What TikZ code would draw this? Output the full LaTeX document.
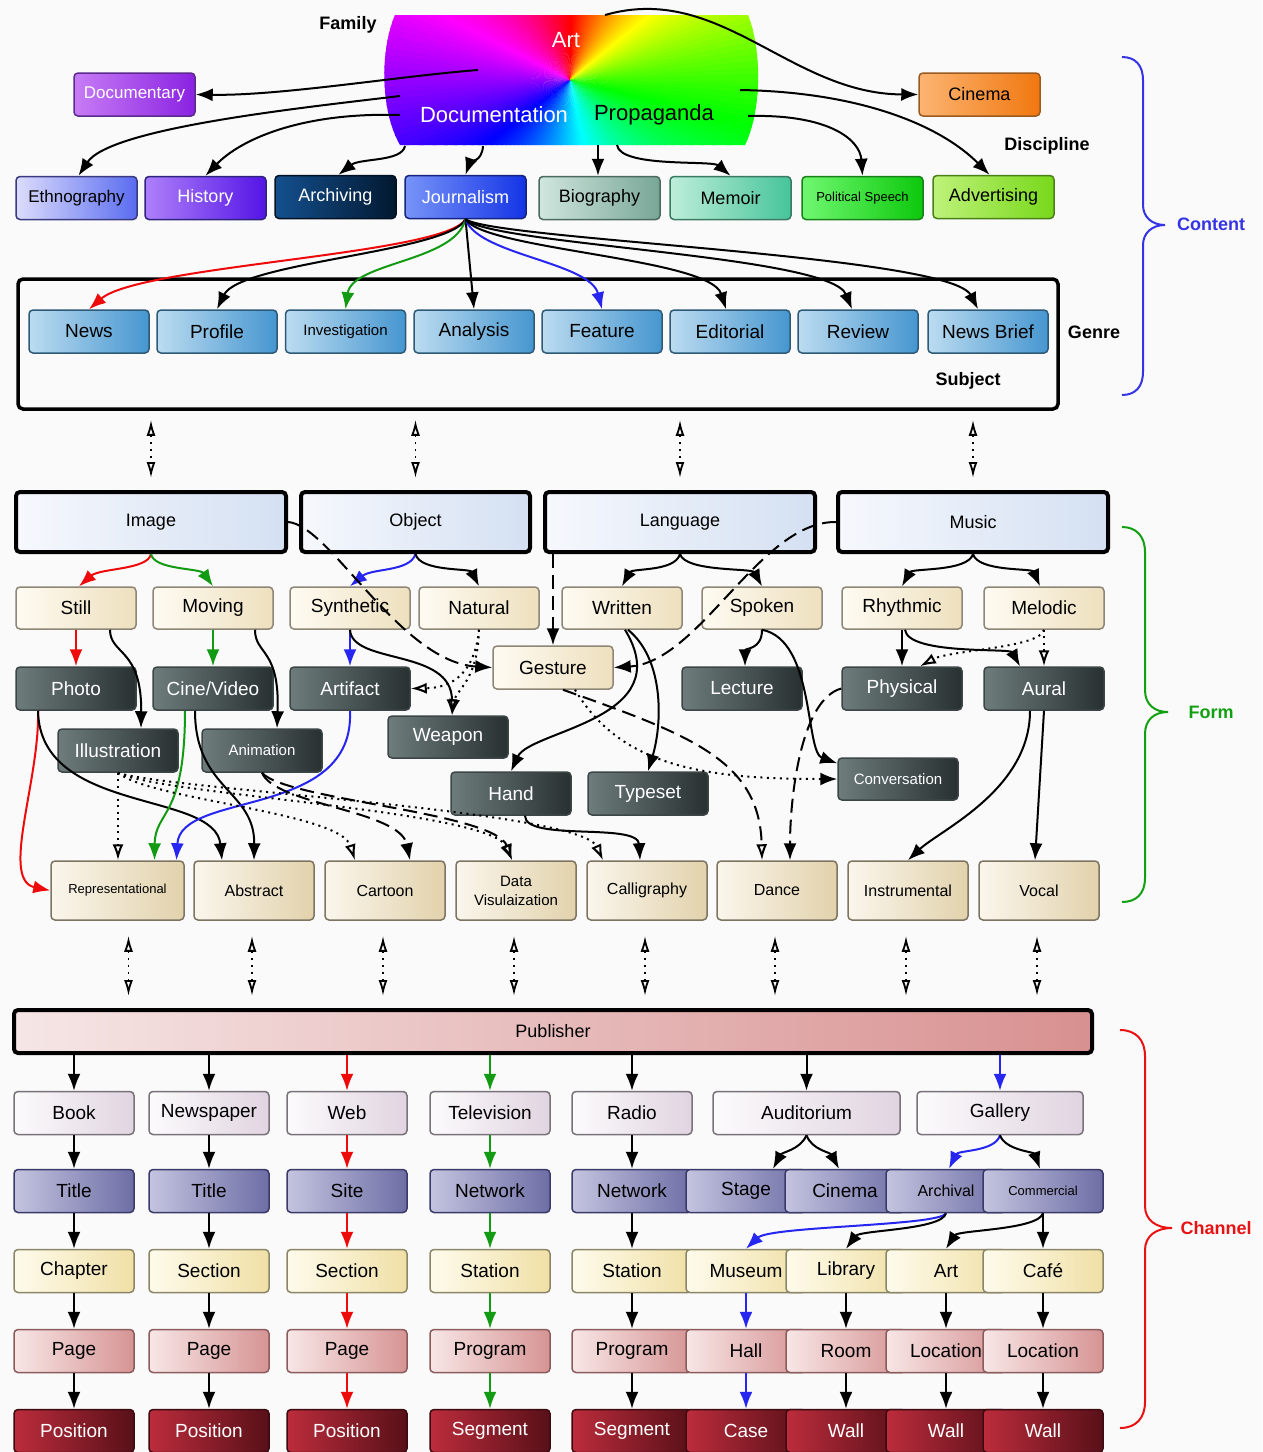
\documentclass[tikz,border=0pt]{standalone}
\usepackage{fontspec}
\setmainfont{Liberation Sans}
\usetikzlibrary{arrows.meta}

\definecolor{bgc}{HTML}{FAFAFA}
\definecolor{ered}{HTML}{EE0A0A}
\definecolor{egreen}{HTML}{139A13}
\definecolor{eblue}{HTML}{2626F0}
\definecolor{cbrace}{HTML}{3434E6}
\definecolor{fbrace}{HTML}{12A012}
\definecolor{rbrace}{HTML}{E81212}
% discipline colours
\definecolor{docL}{HTML}{C77CF5}\definecolor{docR}{HTML}{8A22E2}\definecolor{docB}{HTML}{5B2A8C}
\definecolor{cinL}{HTML}{FCB472}\definecolor{cinR}{HTML}{F07810}\definecolor{cinB}{HTML}{9A5A20}
\definecolor{ethL}{HTML}{DCDCFC}\definecolor{ethR}{HTML}{5A6CF0}\definecolor{ethB}{HTML}{3A3A80}
\definecolor{hisL}{HTML}{AE80FA}\definecolor{hisR}{HTML}{5414E6}\definecolor{hisB}{HTML}{2E2480}
\definecolor{arcL}{HTML}{14508E}\definecolor{arcR}{HTML}{021830}\definecolor{arcB}{HTML}{021024}
\definecolor{jouL}{HTML}{7894F8}\definecolor{jouR}{HTML}{1434E6}\definecolor{jouB}{HTML}{142480}
\definecolor{bioL}{HTML}{D0E6DE}\definecolor{bioR}{HTML}{78A696}\definecolor{bioB}{HTML}{4A6A5E}
\definecolor{memL}{HTML}{BEEEDA}\definecolor{memR}{HTML}{46C49A}\definecolor{memB}{HTML}{3A7A62}
\definecolor{polL}{HTML}{70F870}\definecolor{polR}{HTML}{0CC80C}\definecolor{polB}{HTML}{188018}
\definecolor{advL}{HTML}{BEF27A}\definecolor{advR}{HTML}{78D81A}\definecolor{advB}{HTML}{4A8018}
% genre, form and channel colours
\definecolor{genL}{HTML}{BCDCF0}\definecolor{genR}{HTML}{4696D0}\definecolor{genB}{HTML}{2E5A78}
\definecolor{ftL}{HTML}{F6F8FD}\definecolor{ftR}{HTML}{D4E0F2}
\definecolor{crL}{HTML}{FEFBF2}\definecolor{crR}{HTML}{EEE0BE}\definecolor{crB}{HTML}{8E8676}
\definecolor{dkL}{HTML}{6E7C7C}\definecolor{dkR}{HTML}{283030}\definecolor{dkB}{HTML}{3C4646}
\definecolor{fbL}{HTML}{FAF6EC}\definecolor{fbR}{HTML}{E2D2AC}\definecolor{fbB}{HTML}{7E7462}
\definecolor{caL}{HTML}{FCFBFC}\definecolor{caR}{HTML}{E0D4E0}\definecolor{caB}{HTML}{7A727A}
\definecolor{cbL}{HTML}{C4C4E0}\definecolor{cbR}{HTML}{6E6EA6}\definecolor{cbB}{HTML}{3A3A6A}
\definecolor{ccL}{HTML}{FEFBEC}\definecolor{ccR}{HTML}{F0E0A6}\definecolor{ccB}{HTML}{8C8668}
\definecolor{cdL}{HTML}{F8E6E6}\definecolor{cdR}{HTML}{D69494}\definecolor{cdB}{HTML}{8C5C5C}
\definecolor{ceL}{HTML}{BC2C3C}\definecolor{ceR}{HTML}{581018}\definecolor{ceB}{HTML}{3C0A10}
\definecolor{pubL}{HTML}{F6E6E6}\definecolor{pubR}{HTML}{D89090}

\newcommand\fsz[1]{\fontsize{#1}{#1}\selectfont}

\tikzset{
  bx/.style={rounded corners=4pt, line width=1.5pt, minimum width=120pt,
             minimum height=43pt, inner sep=0pt, align=center, font=\fsz{19}},
  boxcol/.style n args={3}{draw=#1, left color=#2, right color=#3},
  genbox/.style={bx, boxcol={genB}{genL}{genR}},
  ftop/.style={bx, draw=black, line width=4pt, minimum width=270pt, minimum height=60pt,
               left color=ftL, right color=ftR, font=\fsz{18}},
  crbox/.style={bx, minimum height=42pt, boxcol={crB}{crL}{crR}},
  dkbox/.style={bx, boxcol={dkB}{dkL}{dkR}, text=white},
  fbbox/.style={bx, minimum height=59pt, boxcol={fbB}{fbL}{fbR}, font=\fsz{16}},
  chA/.style={bx, boxcol={caB}{caL}{caR}},
  chB/.style={bx, boxcol={cbB}{cbL}{cbR}},
  chC/.style={bx, boxcol={ccB}{ccL}{ccR}},
  chD/.style={bx, boxcol={cdB}{cdL}{cdR}},
  chE/.style={bx, boxcol={ceB}{ceL}{ceR}, text=white},
  lbl/.style={font=\bfseries\fsz{18}},
  arr/.style={-{Latex[length=17pt,width=13pt]}, line width=2pt},
  oarr/.style={-{Latex[open,length=16pt,width=11pt]}, line width=2pt},
  dotline/.style={dash pattern=on 2pt off 4.5pt},
  dashline/.style={dash pattern=on 14pt off 7pt},
  dbl/.style={{Latex[open,length=16pt,width=9pt]}-{Latex[open,length=16pt,width=9pt]},
              line width=1.8pt, dash pattern=on 2pt off 5pt},
  brc/.style={line width=2pt},
}

\begin{document}
\begin{tikzpicture}[x=1pt,y=-1pt]
\useasboundingbox (0,0) rectangle (1262,1452);
\fill[bgc] (0,0) rectangle (1262,1452);

% ---------- colour wheel of the families ----------
\begin{scope}
  \clip (395,15) -- (748,15) .. controls (762,50) and (762,110) .. (745,145)
        -- (400,145) .. controls (380,110) and (380,50) .. (395,15) -- cycle;
  \foreach \a in {0,2,...,358}{
    \pgfmathsetmacro\t{mod(\a+90,360)/360}
    \pgfmathsetmacro\hu{\t<0.25 ? 1.2*\t : 0.30+(\t-0.25)*0.9333}
    \pgfmathsetmacro\b{\a+2.6}
    \definecolor{wedge}{hsb}{\hu,1,1}
    \fill[wedge] (570,80) -- +(\a:520) -- +(\b:520) -- cycle;
  }
\end{scope}
\node[font=\fsz{22}, text=white] (art) at (566,40) {Art};
\node[font=\fsz{22}, text=white] (documentation) at (494,115) {Documentation};
\node[font=\fsz{22}] (propaganda) at (654,115) {Propaganda};

\coordinate (bDoc) at (478,70);
\coordinate (bEth) at (400,96);
\coordinate (bHis) at (400,115);
\coordinate (bArc) at (405,146);
\coordinate (bJou) at (483,146);
\coordinate (bBio) at (598,145);
\coordinate (bMem) at (617,145);
\coordinate (bPol) at (748,116);
\coordinate (bAdv) at (740,90);
\coordinate (bCin) at (605,15);

% ---------- labels ----------
\node[lbl] (lfamily) at (348,25) {Family};
\node[lbl] (ldisc) at (1047,146) {Discipline};
\node[lbl] (lgenre) at (1094,332) {Genre};
\node[lbl] (lsubj) at (968,381) {Subject};
\node[lbl, text=cbrace] (lcontent) at (1211,224) {Content};
\node[lbl, text=fbrace] (lform) at (1211,712) {Form};
\node[lbl, text=rbrace] (lchannel) at (1216,1228) {Channel};

% ---------- disciplines ----------
\node[bx, minimum width=121pt, boxcol={docB}{docL}{docR}, text=white, font=\fsz{17}] (documentary) at (134.5,94.5) {Documentary};
\node[bx, minimum width=121pt, boxcol={cinB}{cinL}{cinR}, font=\fsz{18}] (cinema) at (979.5,94.5) {Cinema};
\node[bx, minimum width=121pt, boxcol={ethB}{ethL}{ethR}, font=\fsz{17}] (ethno) at (76.5,198) {Ethnography};
\node[bx, minimum width=121pt, boxcol={hisB}{hisL}{hisR}, text=white, font=\fsz{18}] (history) at (205.5,198) {History};
\node[bx, minimum width=121pt, boxcol={arcB}{arcL}{arcR}, text=white, font=\fsz{18}] (archiving) at (335.5,197) {Archiving};
\node[bx, minimum width=121pt, boxcol={jouB}{jouL}{jouR}, text=white, font=\fsz{18}] (journalism) at (465.5,197) {Journalism};
\node[bx, minimum width=121pt, boxcol={bioB}{bioL}{bioR}, font=\fsz{18}] (biography) at (599.5,198) {Biography};
\node[bx, minimum width=121pt, boxcol={memB}{memL}{memR}, font=\fsz{18}] (memoir) at (730.5,198) {Memoir};
\node[bx, minimum width=121pt, boxcol={polB}{polL}{polR}, font=\fsz{13}] (polspeech) at (862.5,198) {Political Speech};
\node[bx, minimum width=121pt, boxcol={advB}{advL}{advR}, font=\fsz{18}] (advertising) at (993.5,197) {Advertising};

\draw[arr] (bDoc) .. controls (400,76) and (280,96) .. (documentary.east);
\draw[arr] (bEth) .. controls (300,108) and (110,128) .. ([xshift=2pt]ethno.north);
\draw[arr] (bHis) .. controls (300,112) and (240,140) .. (history.north);
\draw[arr] (bArc) .. controls (402,162) and (360,158) .. ([xshift=3pt]archiving.north);
\draw[arr] (bJou) .. controls (482,162) and (470,162) .. (journalism.north);
\draw[arr] (bBio) -- (bBio |- biography.north);
\draw[arr] (bMem) .. controls (620,168) and (712,160) .. (memoir.north);
\draw[arr] (bPol) .. controls (830,114) and (860,140) .. (polspeech.north);
\draw[arr] (bAdv) .. controls (860,92) and (940,125) .. ([xshift=-4pt]advertising.north);
\draw[arr] (bCin) .. controls (720,-18) and (790,94) .. (cinema.west);

% ---------- subject / genre ----------
\node[draw, line width=3.5pt, rounded corners=5pt, minimum width=1040pt, minimum height=130pt, inner sep=0pt] (subject) at (538,344) {};
\node[genbox] (news) at (89,331.5) {News};
\node[genbox] (profile) at (217,331.5) {Profile};
\node[genbox, font=\fsz{15}] (investigation) at (345.5,331.5) {Investigation};
\node[genbox] (analysis) at (474,331.5) {Analysis};
\node[genbox] (feature) at (602,331.5) {Feature};
\node[genbox] (editorial) at (730,331.5) {Editorial};
\node[genbox] (review) at (858,331.5) {Review};
\node[genbox] (newsbrief) at (988,331.5) {News Brief};

\draw[arr, ered] (journalism.south) .. controls (445,255) and (140,265) .. (news.north);
\draw[arr] (journalism.south) .. controls (450,252) and (240,262) .. (profile.north);
\draw[arr, egreen] (journalism.south) .. controls (455,262) and (352,262) .. (investigation.north);
\draw[arr] (journalism.south) -- (analysis.north);
\draw[arr, eblue] (journalism.south) .. controls (478,255) and (590,262) .. (feature.north);
\draw[arr] (journalism.south) .. controls (485,250) and (710,258) .. ([xshift=-4pt]editorial.north);
\draw[arr] (journalism.south) .. controls (490,245) and (830,255) .. ([xshift=-6pt]review.north);
\draw[arr] (journalism.south) .. controls (495,240) and (950,255) .. ([xshift=-10pt]newsbrief.north);

% ---------- form ----------
\node[ftop] (img) at (151,522) {Image};
\node[ftop, minimum width=229pt] (obj) at (415.5,522) {Object};
\node[ftop] (lang) at (680,522) {Language};
\node[ftop] (music) at (973,522) {Music};

\foreach \n in {img,obj,lang,music}
  \draw[dbl, shorten <=9pt, shorten >=12pt] (\n.north |- subject.south) -- (\n.north);

\node[crbox] (still) at (76,608) {Still};
\node[crbox] (moving) at (213,608) {Moving};
\node[crbox] (synth) at (350,608) {Synthetic};
\node[crbox] (natural) at (479,608) {Natural};
\node[crbox] (written) at (622,608) {Written};
\node[crbox] (spoken) at (762,608) {Spoken};
\node[crbox] (rhythmic) at (902,608) {Rhythmic};
\node[crbox] (melodic) at (1044,608) {Melodic};
\node[crbox, minimum height=43pt] (gesture) at (553,667.5) {Gesture};

\node[dkbox] (photo) at (76,688.5) {Photo};
\node[dkbox] (cine) at (213,688.5) {Cine/Video};
\node[dkbox] (artifact) at (350,688.5) {Artifact};
\node[dkbox] (lecture) at (742,688.5) {Lecture};
\node[dkbox] (physical) at (902,688.5) {Physical};
\node[dkbox] (aural) at (1044,688.5) {Aural};
\node[dkbox] (illus) at (118,750.5) {Illustration};
\node[dkbox, font=\fsz{15}] (anim) at (262,750.5) {Animation};
\node[dkbox, minimum height=42pt] (weapon) at (448,737) {Weapon};
\node[dkbox] (hand) at (511,793.5) {Hand};
\node[dkbox] (typeset) at (648,793.5) {Typeset};
\node[dkbox, minimum height=42pt, font=\fsz{15}] (conv) at (898,779) {Conversation};

\node[fbbox, minimum width=133pt, font=\fsz{13}] (rep) at (117.5,890.5) {Representational};
\node[fbbox] (abstract) at (254,890.5) {Abstract};
\node[fbbox] (cartoon) at (385,890.5) {Cartoon};
\node[fbbox, font=\fontsize{15}{19}\selectfont] (dataviz) at (516,890.5) {Data\\Visulaization};
\node[fbbox] (calli) at (647,890.5) {Calligraphy};
\node[fbbox] (dance) at (777,890.5) {Dance};
\node[fbbox] (instr) at (908,890.5) {Instrumental};
\node[fbbox] (vocal) at (1039,890.5) {Vocal};

% first level of form
\draw[arr, ered] (img.south) .. controls (148,570) and (100,568) .. ([xshift=3pt]still.north);
\draw[arr, egreen] (img.south) .. controls (154,570) and (200,568) .. (moving.north);
\draw[arr, eblue] (obj.south) .. controls (410,572) and (372,568) .. (synth.north);
\draw[arr] (obj.south) .. controls (420,572) and (470,568) .. (natural.north);
\draw[arr] (lang.south) .. controls (675,572) and (632,568) .. (written.north);
\draw[arr] (lang.south) .. controls (685,572) and (752,568) .. (spoken.north);
\draw[arr] (music.south) .. controls (968,572) and (912,568) .. (rhythmic.north);
\draw[arr] (music.south) .. controls (978,572) and (1032,568) .. ([xshift=-4pt]melodic.north);

% second level of form
\draw[arr, ered] (still.south) -- (photo.north);
\draw[arr] ([xshift=34pt]still.south) .. controls (110,655) and (142,648) .. ([xshift=23pt]illus.north);
\draw[arr, egreen] (moving.south) -- (cine.north);
\draw[arr] ([xshift=42pt]moving.south) .. controls (255,655) and (280,648) .. ([xshift=15pt]anim.north);
\draw[arr, eblue] (synth.south) -- (artifact.north);
\draw[oarr] (synth.south) .. controls (352,665) and (452,648) .. ([xshift=4pt]weapon.north);
\draw[oarr, dotline] (natural.south) .. controls (478,680) and (456,690) .. ([xshift=4pt]weapon.north);
\draw[oarr, dotline] (natural.south) .. controls (474,680) and (445,688) .. (artifact.east);
\draw[arr, dashline] (img.east) .. controls (330,525) and (400,662) .. (gesture.west);
\draw[arr, dashline] (gesture.north |- lang.south) -- (gesture.north);
\draw[arr, dashline] (music.west) .. controls (760,521) and (700,662) .. (gesture.east);
\draw[arr] ([xshift=3pt]written.south) .. controls (680,720) and (530,730) .. (hand.north);
\draw[arr] ([xshift=6pt]written.south) .. controls (665,660) and (662,725) .. (typeset.north);
\draw[arr] (spoken.south) .. controls (762,650) and (745,648) .. ([xshift=3pt]lecture.north);
\draw[arr] (spoken.south) .. controls (815,640) and (805,752) .. ([yshift=-6pt]conv.north west);
\draw[oarr, dashline] ([xshift=10pt]gesture.south) .. controls (690,735) and (760,760) .. ([xshift=-15pt]dance.north);
\draw[arr, dotline] ([xshift=22pt]gesture.south) .. controls (620,765) and (700,779) .. (conv.west);
\draw[arr, dashline] (physical.west) .. controls (800,700) and (790,800) .. ([xshift=13pt]dance.north);
\draw[arr] (rhythmic.south) -- (physical.north);
\draw[arr] ([xshift=3pt]rhythmic.south) .. controls (908,655) and (1010,648) .. ([xshift=-24pt]aural.north);
\draw[oarr, dotline] (melodic.south) -- (aural.north);
\draw[oarr, dotline] (melodic.south) .. controls (1040,648) and (950,650) .. ([xshift=18pt]physical.north);

% third level of form
\draw[arr] ([xshift=-14pt]aural.south) .. controls (1030,790) and (940,830) .. (instr.north);
\draw[arr] (aural.south) -- ([xshift=-4pt]vocal.north);
\draw[arr, ered] ([xshift=-38pt]photo.south) .. controls (40,780) and (0,880) .. (rep.west);
\draw[arr] ([xshift=-38pt]photo.south) .. controls (40,815) and (215,790) .. ([xshift=-32pt]abstract.north);
\draw[arr, egreen] ([xshift=-28pt]cine.south) .. controls (185,820) and (155,810) .. ([xshift=37pt]rep.north);
\draw[arr] ([xshift=-18pt]cine.south) .. controls (195,790) and (255,790) .. (abstract.north);
\draw[arr, eblue] (artifact.south) .. controls (355,820) and (180,790) .. ([xshift=59pt]rep.north);
\draw[oarr, dotline] (illus.south) -- (illus.south |- rep.north);
\draw[oarr, dotline] (illus.south) .. controls (150,800) and (340,812) .. ([xshift=-30pt]cartoon.north);
\draw[oarr, dotline] (illus.south) .. controls (160,795) and (490,810) .. ([xshift=-4pt]dataviz.north);
\draw[oarr, dotline] (illus.south) .. controls (170,790) and (580,810) .. ([xshift=-44pt]calli.north);
\draw[arr, dashline] (anim.south) .. controls (275,805) and (400,810) .. ([xshift=25pt]cartoon.north);
\draw[oarr, dashline] (anim.south) .. controls (285,800) and (495,812) .. ([xshift=-4pt]dataviz.north);
\draw[arr] ([xshift=14pt]hand.south) .. controls (525,842) and (638,822) .. ([xshift=-7pt]calli.north);

% ---------- channel ----------
\node[bx, draw=black, line width=4pt, minimum width=1078pt, left color=pubL, right color=pubR, font=\fsz{18}] (publisher) at (553,1031.5) {Publisher};

\draw[dbl, shorten <=15pt, shorten >=12pt] ([xshift=11pt]rep.south) -- ([xshift=11pt]rep.south |- publisher.north);
\foreach \n in {abstract,cartoon,dataviz,calli,dance,instr,vocal}
  \draw[dbl, shorten <=15pt, shorten >=12pt] ([xshift=-2pt]\n.south) -- ([xshift=-2pt]\n.south |- publisher.north);

\node[chA] (book) at (74,1113) {Book};
\node[chA] (newspaper) at (209,1113) {Newspaper};
\node[chA] (web) at (347,1113) {Web};
\node[chA] (television) at (490,1113) {Television};
\node[chA] (radio) at (632,1113) {Radio};
\node[chA, minimum width=187pt] (auditorium) at (806.5,1113) {Auditorium};
\node[chA, minimum width=166pt] (gallery) at (1000,1113) {Gallery};

\node[chB] (title1) at (74,1191) {Title};
\node[chB] (title2) at (209,1191) {Title};
\node[chB] (site) at (347,1191) {Site};
\node[chB] (network1) at (490,1191) {Network};
\node[chB] (network2) at (632,1191) {Network};
\node[chB] (stage) at (746,1191) {Stage};
\node[chB] (cinema2) at (845,1191) {Cinema};
\node[chB, font=\fsz{16}] (archival) at (946,1191) {Archival};
\node[chB, font=\fsz{13}] (commercial) at (1043,1191) {Commercial};

\node[chC] (chapter) at (74,1271) {Chapter};
\node[chC] (section1) at (209,1271) {Section};
\node[chC] (section2) at (347,1271) {Section};
\node[chC] (station1) at (490,1271) {Station};
\node[chC] (station2) at (632,1271) {Station};
\node[chC] (museum) at (746,1271) {Museum};
\node[chC] (library) at (846,1271) {Library};
\node[chC] (art2) at (946,1271) {Art};
\node[chC] (cafe) at (1043,1271) {Café};

\node[chD] (page1) at (74,1351) {Page};
\node[chD] (page2) at (209,1351) {Page};
\node[chD] (page3) at (347,1351) {Page};
\node[chD] (program1) at (490,1351) {Program};
\node[chD] (program2) at (632,1351) {Program};
\node[chD] (hall) at (746,1351) {Hall};
\node[chD] (room) at (846,1351) {Room};
\node[chD] (location1) at (946,1351) {Location};
\node[chD] (location2) at (1043,1351) {Location};

\node[chE] (pos1) at (74,1431) {Position};
\node[chE] (pos2) at (209,1431) {Position};
\node[chE] (pos3) at (347,1431) {Position};
\node[chE] (segment1) at (490,1431) {Segment};
\node[chE] (segment2) at (632,1431) {Segment};
\node[chE] (case) at (746,1431) {Case};
\node[chE] (wall1) at (846,1431) {Wall};
\node[chE] (wall2) at (946,1431) {Wall};
\node[chE] (wall3) at (1043,1431) {Wall};

\foreach \n in {book,newspaper,radio,auditorium}
  \draw[arr] (\n.north |- publisher.south) -- (\n.north);
\draw[arr, ered] (web.north |- publisher.south) -- (web.north);
\draw[arr, egreen] (television.north |- publisher.south) -- (television.north);
\draw[arr, eblue] (gallery.north |- publisher.south) -- (gallery.north);

\foreach \a/\b in {book/title1, title1/chapter, chapter/page1, page1/pos1,
                   newspaper/title2, title2/section1, section1/page2, page2/pos2,
                   radio/network2, network2/station2, station2/program2, program2/segment2,
                   library/room, room/wall1, art2/location1, location1/wall2,
                   cafe/location2, location2/wall3}
  \draw[arr] (\a.south) -- (\b.north);
\foreach \a/\b in {web/site, site/section2, section2/page3, page3/pos3}
  \draw[arr, ered] (\a.south) -- (\b.north);
\foreach \a/\b in {television/network1, network1/station1, station1/program1, program1/segment1}
  \draw[arr, egreen] (\a.south) -- (\b.north);
\foreach \a/\b in {museum/hall, hall/case}
  \draw[arr, eblue] (\a.south) -- (\b.north);

\draw[arr] (auditorium.south) .. controls (800,1150) and (782,1152) .. ([xshift=27pt]stage.north);
\draw[arr] (auditorium.south) .. controls (812,1150) and (830,1152) .. ([xshift=-6pt]cinema2.north);
\draw[arr, eblue] (gallery.south) .. controls (995,1152) and (958,1150) .. ([xshift=3pt]archival.north);
\draw[arr] (gallery.south) .. controls (1005,1150) and (1034,1152) .. ([xshift=-3pt]commercial.north);
\draw[arr, eblue] (archival.south) .. controls (940,1226) and (770,1226) .. (museum.north);
\draw[arr] (archival.south) .. controls (942,1230) and (860,1230) .. (library.north);
\draw[arr] (commercial.south) .. controls (1038,1230) and (958,1230) .. (art2.north);
\draw[arr] (commercial.south) -- (cafe.north);

% ---------- braces ----------
\draw[brc, cbrace] (1122,57) .. controls (1136,57) and (1143,66) .. (1143,80) -- (1143,205)
  .. controls (1143,217) and (1152,225) .. (1165,225)
  .. controls (1152,225) and (1143,233) .. (1143,245) -- (1143,372)
  .. controls (1143,386) and (1136,395) .. (1122,395);
\draw[brc, fbrace] (1122,527) .. controls (1136,527) and (1145,536) .. (1145,552) -- (1145,690)
  .. controls (1145,704) and (1154,712) .. (1168,712)
  .. controls (1154,712) and (1145,720) .. (1145,734) -- (1145,878)
  .. controls (1145,894) and (1136,902) .. (1122,902);
\draw[brc, rbrace] (1120,1030) .. controls (1136,1030) and (1145,1040) .. (1145,1056) -- (1145,1206)
  .. controls (1145,1220) and (1156,1228) .. (1172,1228)
  .. controls (1156,1228) and (1145,1236) .. (1145,1250) -- (1145,1402)
  .. controls (1145,1418) and (1136,1428) .. (1120,1428);
\end{tikzpicture}
\end{document}
